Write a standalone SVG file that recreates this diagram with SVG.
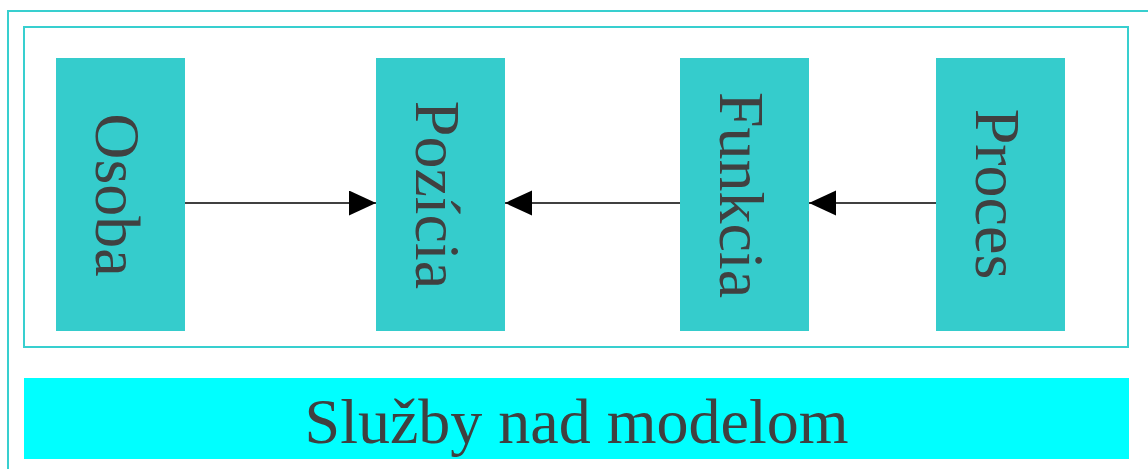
<svg xmlns="http://www.w3.org/2000/svg" width="1148" height="469" viewBox="0 0 1148 469">
  <style>
    .frame { fill: none; stroke: #38CFCF; stroke-width: 2; }
    .node { fill: #35CCCC; }
    .label { font-family: "Liberation Serif", "Times New Roman", serif; font-size: 64px; fill: #404040; text-anchor: middle; }
    .edge { stroke: #000000; stroke-width: 1.5; fill: none; marker-end: url(#arrow); }
  </style>
  <defs>
    <marker id="arrow" markerUnits="userSpaceOnUse" markerWidth="28" markerHeight="26" refX="27" refY="12.5" orient="auto">
      <path d="M0,0 L27,12.5 L0,25 Z" fill="#000000"/>
    </marker>
  </defs>
  <rect width="1148" height="469" fill="#FFFFFF"/>
  <rect class="frame" x="8" y="11" width="1160" height="480"/>
  <rect class="frame" x="24" y="27" width="1104" height="320"/>
  <g id="node-osoba">
    <rect class="node" x="56" y="58" width="129" height="273"/>
    <text class="label" transform="translate(96,195) rotate(90)">Osoba</text>
  </g>
  <g id="node-pozicia">
    <rect class="node" x="376" y="58" width="129" height="273"/>
    <text class="label" transform="translate(416,195) rotate(90)">Pozícia</text>
  </g>
  <g id="node-funkcia">
    <rect class="node" x="680" y="58" width="129" height="273"/>
    <text class="label" transform="translate(720,195) rotate(90)">Funkcia</text>
  </g>
  <g id="node-proces">
    <rect class="node" x="936" y="58" width="129" height="273"/>
    <text class="label" transform="translate(976,194) rotate(90)">Proces</text>
  </g>
  <g id="connectors">
    <line class="edge" x1="185" y1="203" x2="376" y2="203"/>
    <line class="edge" x1="680" y1="203" x2="505" y2="203"/>
    <line class="edge" x1="936" y1="203" x2="809" y2="203"/>
  </g>
  <g id="services">
    <rect x="24" y="378" width="1105" height="81" fill="#00FFFF"/>
    <text class="label" x="576.5" y="443">Služby nad modelom</text>
  </g>
</svg>
